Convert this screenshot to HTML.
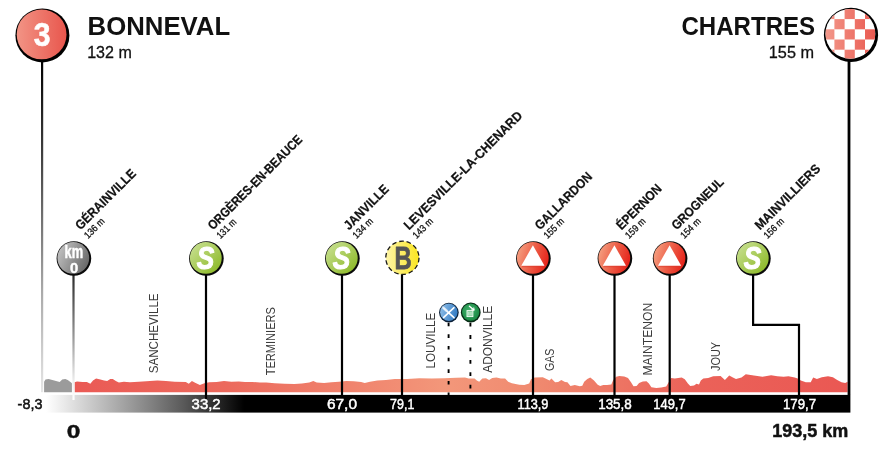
<!DOCTYPE html>
<html><head><meta charset="utf-8"><title>Stage 3 - Bonneval / Chartres</title>
<style>
html,body{margin:0;padding:0;background:#fff;}
body{width:892px;height:452px;overflow:hidden;font-family:"Liberation Sans",sans-serif;}
svg{display:block;position:absolute;left:0;top:0;will-change:transform;}
text{font-family:"Liberation Sans",sans-serif;}
.b{font-weight:bold;}
</style></head><body>
<svg width="892" height="452" viewBox="0 0 892 452">
<defs>
<linearGradient id="gStart" x1="0" y1="0" x2="1" y2="0"><stop offset="0" stop-color="#f29485"/><stop offset="1" stop-color="#e8564d"/></linearGradient>
<linearGradient id="gRedM" x1="0" y1="0.25" x2="1" y2="0.55"><stop offset="0" stop-color="#f5a283"/><stop offset="0.5" stop-color="#ed5f48"/><stop offset="1" stop-color="#e6241b"/></linearGradient>
<linearGradient id="gGreen" x1="0" y1="0" x2="1" y2="1"><stop offset="0" stop-color="#cde39a"/><stop offset="1" stop-color="#86b51c"/></linearGradient>
<linearGradient id="gYellow" x1="0" y1="0" x2="1" y2="0"><stop offset="0" stop-color="#fdf4a8"/><stop offset="1" stop-color="#fbe61f"/></linearGradient>
<linearGradient id="gGrey" x1="0" y1="0.2" x2="1" y2="0.7"><stop offset="0" stop-color="#c4c4c4"/><stop offset="1" stop-color="#666666"/></linearGradient>
<linearGradient id="gBlue" x1="0" y1="0" x2="1" y2="0.3"><stop offset="0" stop-color="#93c2ea"/><stop offset="1" stop-color="#3a80c6"/></linearGradient>
<radialGradient id="gGreen2" cx="0.42" cy="0.42" r="0.62"><stop offset="0" stop-color="#42b36c"/><stop offset="1" stop-color="#188743"/></radialGradient>
<linearGradient id="gBar" gradientUnits="userSpaceOnUse" x1="46" y1="0" x2="244" y2="0"><stop offset="0" stop-color="#ffffff"/><stop offset="0.45" stop-color="#959595"/><stop offset="0.7" stop-color="#585858"/><stop offset="1" stop-color="#000000"/></linearGradient>
<linearGradient id="gProf" gradientUnits="userSpaceOnUse" x1="74" y1="0" x2="848" y2="0"><stop offset="0" stop-color="#ea5a55"/><stop offset="0.2" stop-color="#ec6a5d"/><stop offset="0.48" stop-color="#f3977a"/><stop offset="0.6" stop-color="#f0896f"/><stop offset="0.8" stop-color="#eb6259"/><stop offset="1" stop-color="#ea5853"/></linearGradient>
<linearGradient id="gPole" gradientUnits="userSpaceOnUse" x1="0" y1="60" x2="0" y2="392"><stop offset="0" stop-color="#000"/><stop offset="0.3" stop-color="#444"/><stop offset="0.7" stop-color="#aaa"/><stop offset="1" stop-color="#e6e6e6"/></linearGradient>
<linearGradient id="gKm0" gradientUnits="userSpaceOnUse" x1="0" y1="275" x2="0" y2="400"><stop offset="0" stop-color="#2a2a2a"/><stop offset="0.5" stop-color="#999"/><stop offset="0.85" stop-color="#eee"/><stop offset="1" stop-color="#fff"/></linearGradient>
<clipPath id="cFin"><circle cx="850.4" cy="33.8" r="24.9"/></clipPath>
<linearGradient id="gChk" gradientUnits="userSpaceOnUse" x1="824" y1="0" x2="877" y2="0"><stop offset="0" stop-color="#f39a8c"/><stop offset="1" stop-color="#e9574e"/></linearGradient>
</defs>
<rect x="44" y="394.9" width="806.4" height="17.7" fill="url(#gBar)"/>
<path d="M44.1,392.2 L44.1,381.7 L45.5,379.6 L48.6,379.0 L52.3,379.9 L56.0,381.1 L59.7,382.1 L62.2,379.6 L65.3,379.0 L67.7,380.1 L70.8,382.3 L71.9,383.3 L71.9,392.2 Z" fill="#9b9b9b"/>
<path d="M74.5,392.2 L74.5,382.3 L77.0,381.5 L82.5,382.0 L86.9,382.1 L90.3,383.8 L93.0,380.5 L96.1,378.6 L100.4,379.6 L104.1,380.5 L107.2,381.1 L110.3,378.9 L112.8,378.9 L115.8,380.9 L118.9,382.6 L123.9,381.7 L130.0,382.3 L138.7,381.8 L150.0,380.9 L157.4,380.5 L166.0,381.1 L174.7,381.7 L185.8,382.1 L188.8,383.8 L191.9,381.1 L195.6,382.9 L199.9,385.0 L204.3,383.3 L209.2,382.3 L216.6,382.0 L224.0,381.1 L231.4,381.7 L238.8,381.5 L245.0,382.1 L252.4,382.0 L260.0,382.5 L266.2,382.6 L274.8,383.3 L284.7,383.8 L294.5,383.9 L301.9,383.6 L309.3,382.6 L313.3,381.1 L316.7,382.6 L324.1,383.1 L331.5,382.3 L338.9,381.7 L346.3,381.1 L353.7,381.3 L361.1,382.1 L364.8,382.9 L370.0,381.7 L377.4,380.5 L386.0,379.9 L394.7,379.0 L407.0,378.9 L419.3,378.3 L431.7,378.4 L444.0,378.3 L456.3,377.8 L465.0,377.6 L468.7,378.4 L474.5,378.5 L476.8,380.5 L479.2,381.7 L482.3,378.6 L486.0,378.3 L489.1,379.9 L492.2,378.0 L496.5,377.4 L500.8,378.4 L505.1,378.4 L508.2,381.7 L511.9,383.3 L519.3,384.8 L524.3,385.0 L526.7,384.2 L529.2,383.6 L531.0,379.2 L534.7,377.4 L542.8,377.2 L546.5,378.9 L549.5,380.5 L551.4,378.4 L555.1,382.3 L558.2,382.1 L561.3,380.1 L565.0,382.0 L567.4,382.3 L570.5,386.0 L574.8,385.0 L579.9,386.3 L582.3,385.8 L584.2,381.7 L587.3,378.9 L590.3,377.4 L594.0,380.5 L597.7,384.8 L600.2,386.0 L603.3,385.0 L607.0,385.0 L611.3,384.6 L613.2,379.9 L616.2,376.8 L619.3,375.9 L624.3,376.4 L628.0,378.0 L631.0,382.3 L633.5,386.3 L636.6,386.0 L639.1,382.9 L642.8,381.5 L646.5,381.3 L648.9,383.6 L651.4,387.3 L656.3,387.9 L661.3,387.5 L666.2,386.6 L668.7,382.3 L671.1,378.0 L674.8,378.6 L681.7,377.6 L684.8,379.2 L687.9,383.6 L690.3,386.0 L694.0,385.4 L696.5,383.8 L699.0,384.6 L700.8,380.5 L703.3,378.6 L708.2,378.0 L713.2,376.2 L720.6,375.9 L724.9,380.1 L729.2,375.5 L732.9,377.4 L736.0,378.9 L741.5,377.4 L745.8,374.3 L753.9,375.5 L762.5,376.8 L771.1,375.2 L777.4,376.2 L783.6,376.8 L788.5,376.2 L794.7,377.4 L797.7,378.4 L800.8,380.5 L805.8,382.3 L810.7,382.3 L813.2,377.4 L816.9,378.9 L821.8,377.2 L828.0,376.2 L832.9,377.2 L837.2,379.9 L841.5,382.3 L845.2,382.9 L847.6,381.7 L847.6,392.2 Z" fill="url(#gProf)"/>
<text transform="translate(158.4,373.2) rotate(-90)" font-size="12.4" fill="#3c3c3c" textLength="79.8" lengthAdjust="spacingAndGlyphs">SANCHEVILLE</text>
<text transform="translate(275.4,375.3) rotate(-90)" font-size="12.4" fill="#3c3c3c" textLength="68.2" lengthAdjust="spacingAndGlyphs">TERMINIERS</text>
<text transform="translate(435.0,368.6) rotate(-90)" font-size="12.4" fill="#3c3c3c" textLength="56.0" lengthAdjust="spacingAndGlyphs">LOUVILLE</text>
<text transform="translate(492.4,372.8) rotate(-90)" font-size="12.4" fill="#3c3c3c" textLength="67.0" lengthAdjust="spacingAndGlyphs">ADONVILLE</text>
<text transform="translate(554.2,371.0) rotate(-90)" font-size="12.4" fill="#3c3c3c" textLength="22.4" lengthAdjust="spacingAndGlyphs">GAS</text>
<text transform="translate(651.9,375.6) rotate(-90)" font-size="12.4" fill="#3c3c3c" textLength="72.9" lengthAdjust="spacingAndGlyphs">MAINTENON</text>
<text transform="translate(720.2,371.0) rotate(-90)" font-size="12.4" fill="#3c3c3c" textLength="29.0" lengthAdjust="spacingAndGlyphs">JOUY</text>
<rect x="41" y="55" width="2.2" height="337.2" fill="url(#gPole)"/>
<rect x="847.6" y="55" width="2.8" height="340" fill="#000"/>
<rect x="72.4" y="270" width="2.2" height="130" fill="url(#gKm0)"/>
<rect x="204.9" y="270" width="2.2" height="129" fill="#000"/>
<rect x="340.9" y="270" width="2.2" height="129" fill="#000"/>
<rect x="400.9" y="270" width="2.2" height="129" fill="#000"/>
<rect x="531.9" y="270" width="2.2" height="129" fill="#000"/>
<rect x="613.4" y="270" width="2.2" height="129" fill="#000"/>
<rect x="668.6" y="270" width="2.2" height="129" fill="#000"/>
<path d="M753.1,270 V324.8 H799 V399" fill="none" stroke="#000" stroke-width="2.2" stroke-linejoin="miter"/>
<path d="M448.6,322.7 V396.2" stroke="#000" stroke-width="1.9" stroke-dasharray="3.6 8.05" fill="none"/>
<path d="M470.4,322.7 V390" stroke="#000" stroke-width="1.9" stroke-dasharray="3.8 8.6" fill="none"/>
<circle cx="73.9" cy="258.5" r="17.3" fill="#0a0a0a"/>
<circle cx="73.3" cy="257.9" r="15.9" fill="url(#gGrey)"/>
<g transform="translate(73.9,258.4) scale(0.73,1)"><text x="0" y="0" font-size="17.6" class="b" fill="#fff" stroke="#fff" stroke-width="0.5" text-anchor="middle">km</text></g>
<g transform="translate(74.2,273.0) scale(1.0,1)"><text x="0" y="0" font-size="14.8" class="b" fill="#fff" stroke="#fff" stroke-width="0.4" text-anchor="middle">0</text></g>
<circle cx="206.4" cy="258.5" r="17.3" fill="#0a0a0a"/>
<circle cx="205.8" cy="257.9" r="15.9" fill="url(#gGreen)"/>
<g transform="translate(205.4,269.3) scale(0.82,1)"><text x="0" y="0" font-size="32" class="b" font-style="italic" fill="#fff" stroke="#fff" stroke-width="1.1" stroke-linejoin="round" text-anchor="middle">S</text></g>
<circle cx="342.4" cy="258.5" r="17.3" fill="#0a0a0a"/>
<circle cx="341.8" cy="257.9" r="15.9" fill="url(#gGreen)"/>
<g transform="translate(341.4,269.3) scale(0.82,1)"><text x="0" y="0" font-size="32" class="b" font-style="italic" fill="#fff" stroke="#fff" stroke-width="1.1" stroke-linejoin="round" text-anchor="middle">S</text></g>
<circle cx="402.4" cy="257.8" r="16.6" fill="url(#gYellow)" stroke="#1a1a1a" stroke-width="1.3" stroke-dasharray="4.6 2.85"/>
<g transform="translate(403.0,268.9) scale(0.75,1)"><text x="0" y="0" font-size="31.8" class="b" fill="#555" stroke="#555" stroke-width="0.8" stroke-linejoin="round" text-anchor="middle">B</text></g>
<circle cx="533.4" cy="258.5" r="17.3" fill="#0a0a0a"/>
<circle cx="532.8" cy="257.9" r="15.9" fill="url(#gRedM)"/>
<path d="M532.9,245.2 L544.5,265.8 L521.3,265.8 Z" fill="#fff"/>
<path d="M522.0,266.7 H544.0" stroke="#d8382a" stroke-width="0.9" opacity="0.7"/>
<circle cx="614.9" cy="258.5" r="17.3" fill="#0a0a0a"/>
<circle cx="614.3" cy="257.9" r="15.9" fill="url(#gRedM)"/>
<path d="M614.4,245.2 L626.0,265.8 L602.8,265.8 Z" fill="#fff"/>
<path d="M603.5,266.7 H625.5" stroke="#d8382a" stroke-width="0.9" opacity="0.7"/>
<circle cx="670.1" cy="258.5" r="17.3" fill="#0a0a0a"/>
<circle cx="669.5" cy="257.9" r="15.9" fill="url(#gRedM)"/>
<path d="M669.6,245.2 L681.2,265.8 L658.0,265.8 Z" fill="#fff"/>
<path d="M658.7,266.7 H680.7" stroke="#d8382a" stroke-width="0.9" opacity="0.7"/>
<circle cx="753.4" cy="258.5" r="17.3" fill="#0a0a0a"/>
<circle cx="752.8" cy="257.9" r="15.9" fill="url(#gGreen)"/>
<g transform="translate(752.4,269.3) scale(0.82,1)"><text x="0" y="0" font-size="32" class="b" font-style="italic" fill="#fff" stroke="#fff" stroke-width="1.1" stroke-linejoin="round" text-anchor="middle">S</text></g>
<g transform="translate(80.5,230.6) rotate(-45)">
<text x="0" y="0" font-size="13" class="b" fill="#111" stroke="#111" stroke-width="0.25" textLength="79.5" lengthAdjust="spacingAndGlyphs">GÉRAINVILLE</text>
<text x="-0.8" y="11.4" font-size="9.8" fill="#111" stroke="#111" stroke-width="0.3" textLength="24.5" lengthAdjust="spacingAndGlyphs">136 m</text>
</g>
<g transform="translate(213.0,230.6) rotate(-45)">
<text x="0" y="0" font-size="13" class="b" fill="#111" stroke="#111" stroke-width="0.25" textLength="127.5" lengthAdjust="spacingAndGlyphs">ORGÈRES-EN-BEAUCE</text>
<text x="-0.8" y="11.4" font-size="9.8" fill="#111" stroke="#111" stroke-width="0.3" textLength="23.5" lengthAdjust="spacingAndGlyphs">131 m</text>
</g>
<g transform="translate(349.0,230.6) rotate(-45)">
<text x="0" y="0" font-size="13" class="b" fill="#111" stroke="#111" stroke-width="0.25" textLength="57.5" lengthAdjust="spacingAndGlyphs">JANVILLE</text>
<text x="-0.8" y="11.4" font-size="9.8" fill="#111" stroke="#111" stroke-width="0.3" textLength="24.5" lengthAdjust="spacingAndGlyphs">134 m</text>
</g>
<g transform="translate(409.0,230.6) rotate(-45)">
<text x="0" y="0" font-size="13" class="b" fill="#111" stroke="#111" stroke-width="0.25" textLength="161.5" lengthAdjust="spacingAndGlyphs">LEVESVILLE-LA-CHENARD</text>
<text x="-0.8" y="11.4" font-size="9.8" fill="#111" stroke="#111" stroke-width="0.3" textLength="24.5" lengthAdjust="spacingAndGlyphs">143 m</text>
</g>
<g transform="translate(540.0,230.6) rotate(-45)">
<text x="0" y="0" font-size="13" class="b" fill="#111" stroke="#111" stroke-width="0.25" textLength="75.0" lengthAdjust="spacingAndGlyphs">GALLARDON</text>
<text x="-0.8" y="11.4" font-size="9.8" fill="#111" stroke="#111" stroke-width="0.3" textLength="24.5" lengthAdjust="spacingAndGlyphs">155 m</text>
</g>
<g transform="translate(621.5,230.6) rotate(-45)">
<text x="0" y="0" font-size="13" class="b" fill="#111" stroke="#111" stroke-width="0.25" textLength="58.0" lengthAdjust="spacingAndGlyphs">ÉPERNON</text>
<text x="-0.8" y="11.4" font-size="9.8" fill="#111" stroke="#111" stroke-width="0.3" textLength="24.5" lengthAdjust="spacingAndGlyphs">159 m</text>
</g>
<g transform="translate(676.7,230.6) rotate(-45)">
<text x="0" y="0" font-size="13" class="b" fill="#111" stroke="#111" stroke-width="0.25" textLength="67.5" lengthAdjust="spacingAndGlyphs">GROGNEUL</text>
<text x="-0.8" y="11.4" font-size="9.8" fill="#111" stroke="#111" stroke-width="0.3" textLength="24.5" lengthAdjust="spacingAndGlyphs">154 m</text>
</g>
<g transform="translate(760.0,230.6) rotate(-45)">
<text x="0" y="0" font-size="13" class="b" fill="#111" stroke="#111" stroke-width="0.25" textLength="86.5" lengthAdjust="spacingAndGlyphs">MAINVILLIERS</text>
<text x="-0.8" y="11.4" font-size="9.8" fill="#111" stroke="#111" stroke-width="0.3" textLength="24.5" lengthAdjust="spacingAndGlyphs">156 m</text>
</g>
<circle cx="448.9" cy="312.6" r="9.85" fill="#0b2038"/>
<circle cx="448.8" cy="312.2" r="8.7" fill="url(#gBlue)"/>
<path d="M443.6,308.2 L454.0,317.7 M454.0,307.7 L443.7,317.4" stroke="#fff" stroke-width="1.6" stroke-linecap="round" fill="none"/>
<path d="M443.2,307.6 L446.6,310.8" stroke="#e4f0fb" stroke-width="2.6" stroke-linecap="round" opacity="0.75" fill="none"/>
<circle cx="470.75" cy="312.5" r="9.9" fill="#062a14"/>
<circle cx="470.7" cy="312.1" r="8.7" fill="url(#gGreen2)"/>
<rect x="467.0" y="310.6" width="5.9" height="6.0" fill="#86cf9e" stroke="#f6fcf8" stroke-width="0.9"/>
<path d="M468.9,312 V315.4 M471.0,312 V315.4" stroke="#e9f7ed" stroke-width="0.8" fill="none"/>
<path d="M469.4,306.2 L473.9,310.0" stroke="#fff" stroke-width="1.4" stroke-linecap="round" fill="none"/>
<path d="M471.7,309.9 L474.0,310.1 L473.8,307.9" stroke="#fff" stroke-width="1.0" stroke-linecap="round" stroke-linejoin="round" fill="none"/>
<circle cx="42.4" cy="35.4" r="27.0" fill="#000"/>
<circle cx="41.6" cy="34.4" r="24.9" fill="url(#gStart)"/>
<g transform="translate(42.1,46.3) scale(0.9,1)"><text x="0" y="0" font-size="33.5" class="b" fill="#fff" stroke="#fff" stroke-width="0.6" text-anchor="middle">3</text></g>
<circle cx="851.0" cy="34.9" r="27.1" fill="#000"/>
<circle cx="850.4" cy="33.8" r="24.9" fill="#fff"/>
<g clip-path="url(#cFin)" fill="url(#gChk)">
<rect x="814.00" y="-1.30" width="10.20" height="10.20"/>
<rect x="834.40" y="-1.30" width="10.20" height="10.20"/>
<rect x="854.80" y="-1.30" width="10.20" height="10.20"/>
<rect x="875.20" y="-1.30" width="10.20" height="10.20"/>
<rect x="824.20" y="8.90" width="10.20" height="10.20"/>
<rect x="844.60" y="8.90" width="10.20" height="10.20"/>
<rect x="865.00" y="8.90" width="10.20" height="10.20"/>
<rect x="814.00" y="19.10" width="10.20" height="10.20"/>
<rect x="834.40" y="19.10" width="10.20" height="10.20"/>
<rect x="854.80" y="19.10" width="10.20" height="10.20"/>
<rect x="875.20" y="19.10" width="10.20" height="10.20"/>
<rect x="824.20" y="29.30" width="10.20" height="10.20"/>
<rect x="844.60" y="29.30" width="10.20" height="10.20"/>
<rect x="865.00" y="29.30" width="10.20" height="10.20"/>
<rect x="814.00" y="39.50" width="10.20" height="10.20"/>
<rect x="834.40" y="39.50" width="10.20" height="10.20"/>
<rect x="854.80" y="39.50" width="10.20" height="10.20"/>
<rect x="875.20" y="39.50" width="10.20" height="10.20"/>
<rect x="824.20" y="49.70" width="10.20" height="10.20"/>
<rect x="844.60" y="49.70" width="10.20" height="10.20"/>
<rect x="865.00" y="49.70" width="10.20" height="10.20"/>
<rect x="814.00" y="59.90" width="10.20" height="10.20"/>
<rect x="834.40" y="59.90" width="10.20" height="10.20"/>
<rect x="854.80" y="59.90" width="10.20" height="10.20"/>
<rect x="875.20" y="59.90" width="10.20" height="10.20"/>
</g>
<text x="87.6" y="35.0" font-size="26.6" class="b" fill="#111" textLength="142.6" lengthAdjust="spacingAndGlyphs">BONNEVAL</text>
<text x="87.2" y="57.7" font-size="17" fill="#111" stroke="#111" stroke-width="0.3" textLength="44.6" lengthAdjust="spacingAndGlyphs">132 m</text>
<text x="681.4" y="35.0" font-size="26.6" class="b" fill="#111" textLength="133.8" lengthAdjust="spacingAndGlyphs">CHARTRES</text>
<text x="768.8" y="57.7" font-size="17" fill="#111" stroke="#111" stroke-width="0.3" textLength="45.2" lengthAdjust="spacingAndGlyphs">155 m</text>
<text x="17.6" y="409.2" font-size="14.9" fill="#111" stroke="#111" stroke-width="0.5" textLength="24.8" lengthAdjust="spacingAndGlyphs">-8,3</text>
<text x="191.6" y="409.2" font-size="14.9" fill="#fff" stroke="#fff" stroke-width="0.5" textLength="29.0" lengthAdjust="spacingAndGlyphs">33,2</text>
<text x="326.9" y="409.2" font-size="14.9" fill="#fff" stroke="#fff" stroke-width="0.5" textLength="30.1" lengthAdjust="spacingAndGlyphs">67,0</text>
<text x="390.1" y="409.2" font-size="14.9" fill="#fff" stroke="#fff" stroke-width="0.5" textLength="24.2" lengthAdjust="spacingAndGlyphs">79,1</text>
<text x="517.5" y="409.2" font-size="14.9" fill="#fff" stroke="#fff" stroke-width="0.5" textLength="30.9" lengthAdjust="spacingAndGlyphs">113,9</text>
<text x="598.2" y="409.2" font-size="14.9" fill="#fff" stroke="#fff" stroke-width="0.5" textLength="33.6" lengthAdjust="spacingAndGlyphs">135,8</text>
<text x="653.3" y="409.2" font-size="14.9" fill="#fff" stroke="#fff" stroke-width="0.5" textLength="32.3" lengthAdjust="spacingAndGlyphs">149,7</text>
<text x="783.0" y="409.2" font-size="14.9" fill="#fff" stroke="#fff" stroke-width="0.5" textLength="33.1" lengthAdjust="spacingAndGlyphs">179,7</text>
<text x="66.8" y="437.5" font-size="17.8" class="b" fill="#111" stroke="#111" stroke-width="0.4" textLength="13.6" lengthAdjust="spacingAndGlyphs">0</text>
<text x="772.3" y="437.3" font-size="18.2" class="b" fill="#111" stroke="#111" stroke-width="0.5" textLength="76" lengthAdjust="spacingAndGlyphs">193,5 km</text>
</svg>
</body></html>
